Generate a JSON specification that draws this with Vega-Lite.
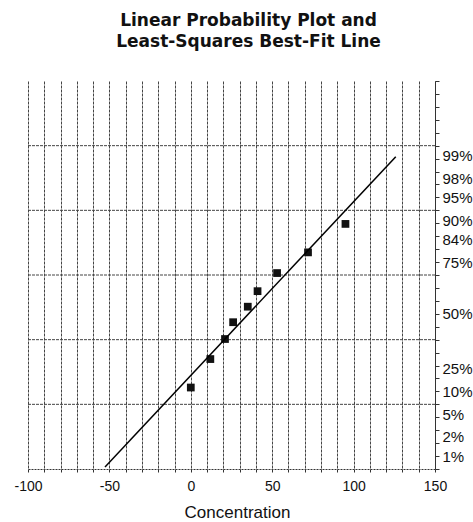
{
  "$schema": "https://vega.github.io/schema/vega-lite/v6.json",
  "autosize": {"type": "none"},
  "padding": {"left": 28, "top": 81, "right": 38, "bottom": 53},
  "width": 407,
  "height": 388,
  "background": "white",
  "view": {"stroke": null},
  "title": {
    "text": ["Linear Probability Plot and", "Least-Squares Best-Fit Line"],
    "font": "DejaVu Sans",
    "fontSize": 17,
    "fontWeight": "bold",
    "color": "#111",
    "anchor": "middle",
    "frame": "group",
    "dx": 17,
    "offset": 30,
    "lineHeight": 21
  },
  "datasets": {
    "points": [
      {"concentration": 0, "z": -1.74},
      {"concentration": 12, "z": -1.30},
      {"concentration": 21, "z": -0.99},
      {"concentration": 26, "z": -0.73},
      {"concentration": 35, "z": -0.49},
      {"concentration": 41, "z": -0.25},
      {"concentration": 53, "z": 0.03},
      {"concentration": 72, "z": 0.35},
      {"concentration": 95, "z": 0.79}
    ],
    "fit": [
      {"concentration": -52.7, "z": -2.97},
      {"concentration": 125.9, "z": 1.83}
    ],
    "hgrid": [
      {"z": -2}, {"z": -1}, {"z": 0}, {"z": 1}, {"z": 2}
    ]
  },
  "resolve": {"axis": {"x": "independent", "y": "independent"}},
  "layer": [
    {
      "data": {"name": "hgrid"},
      "mark": {"type": "rule", "color": "#444", "strokeDash": [3, 1], "strokeWidth": 1},
      "encoding": {
        "y": {
          "field": "z",
          "type": "quantitative",
          "scale": {"domain": [-3, 3], "nice": false, "zero": false},
          "axis": {
            "orient": "right",
            "values": [1.85, 1.5, 1.2, 0.85, 0.55, 0.2, -0.6, -1.45, -1.8, -2.15, -2.5, -2.8],
            "labelExpr": "indexof([185,150,120,85,55,20,-60,-145,-180,-215,-250,-280], round(datum.value*100)) < 0 ? '' : ['99%','98%','95%','90%','84%','75%','50%','25%','10%','5%','2%','1%'][indexof([185,150,120,85,55,20,-60,-145,-180,-215,-250,-280], round(datum.value*100))]",
            "labelOverlap": false,
            "labelFlush": false,
            "grid": false,
            "ticks": false,
            "domain": false,
            "labelPadding": 7,
            "labelFont": "Liberation Sans",
            "labelFontSize": 15,
            "labelColor": "#111",
            "title": null
          }
        }
      }
    },
    {
      "data": {"name": "points"},
      "mark": {"type": "point", "shape": "square", "filled": true, "size": 60, "color": "#111", "opacity": 1},
      "encoding": {
        "x": {
          "field": "concentration",
          "type": "quantitative",
          "scale": {"domain": [-100, 150], "nice": false, "zero": false},
          "axis": {
            "values": [-100, -90, -80, -70, -60, -50, -40, -30, -20, -10, 0, 10, 20, 30, 40, 50, 60, 70, 80, 90, 100, 110, 120, 130, 140, 150],
            "labelExpr": "datum.value % 50 == 0 ? '' + datum.value : ''",
            "labelOverlap": false,
            "labelFlush": false,
            "grid": true,
            "gridColor": "#444",
            "gridDash": [3, 1],
            "gridOpacity": 1,
            "domainColor": "#333",
            "domainDash": [2, 1],
            "tickColor": "#333",
            "tickSize": 3,
            "labelFont": "Liberation Sans",
            "labelFontSize": 14,
            "labelColor": "#111",
            "labelPadding": 7,
            "title": "Concentration",
            "titleFont": "Liberation Sans",
            "titleFontSize": 17,
            "titleFontWeight": "normal",
            "titleColor": "#111",
            "titleBaseline": "alphabetic",
            "titleY": 48,
            "titleX": 209
          }
        },
        "y": {"field": "z", "type": "quantitative", "axis": null}
      }
    },
    {
      "data": {"name": "fit"},
      "mark": {"type": "line", "color": "#000", "strokeWidth": 1.5},
      "encoding": {
        "x": {"field": "concentration", "type": "quantitative", "axis": null},
        "y": {
          "field": "z",
          "type": "quantitative",
          "axis": {
            "orient": "right",
            "values": [-3, -2.8, -2.6, -2.4, -2.2, -2, -1.8, -1.6, -1.4, -1.2, -1, -0.8, -0.6, -0.4, -0.2, 0, 0.2, 0.4, 0.6, 0.8, 1, 1.2, 1.4, 1.6, 1.8, 2, 2.2, 2.4, 2.6, 2.8, 3],
            "labels": false,
            "grid": false,
            "tickSize": 4,
            "tickColor": "#333",
            "domainColor": "#333",
            "title": null
          }
        }
      }
    }
  ]
}
